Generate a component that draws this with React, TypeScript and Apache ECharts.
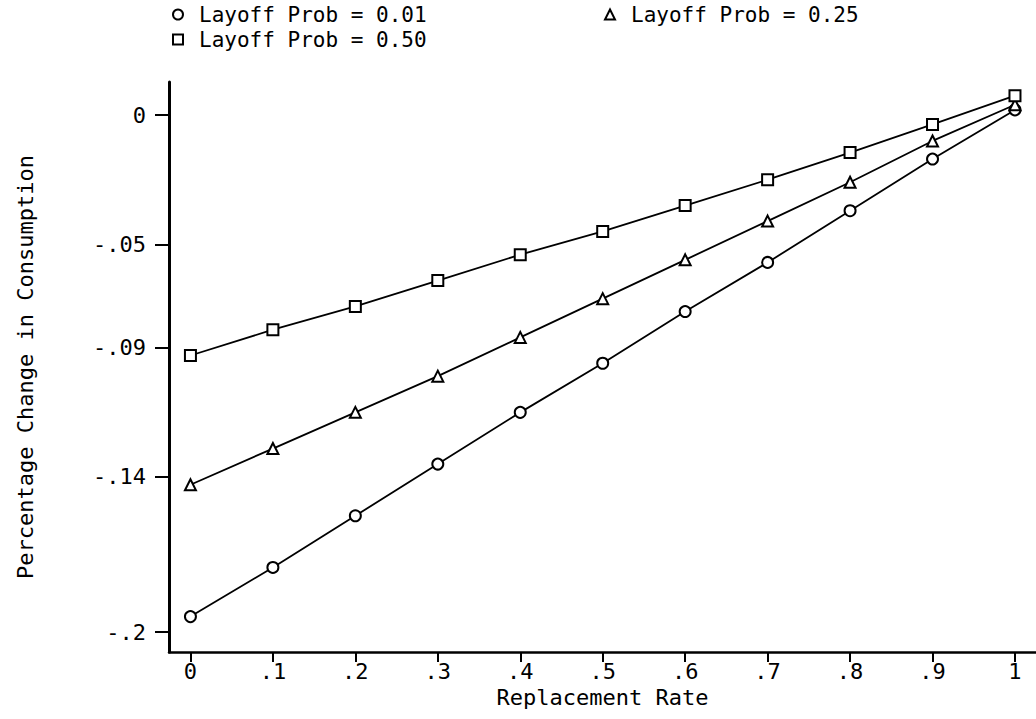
import React, { useEffect, useRef } from 'react';
import * as echarts from 'echarts';

const replacementRates = [0, 0.1, 0.2, 0.3, 0.4, 0.5, 0.6, 0.7, 0.8, 0.9, 1];
const xTickLabels = ['0', '.1', '.2', '.3', '.4', '.5', '.6', '.7', '.8', '.9', '1'];
const yTickValues = [0, -0.05, -0.09, -0.14, -0.2];
const yTickLabels = ['0', '-.05', '-.09', '-.14', '-.2'];
const seriesNames = ['Layoff Prob = 0.01', 'Layoff Prob = 0.25', 'Layoff Prob = 0.50'];
const prob001 = [-0.194, -0.175, -0.155, -0.135, -0.115, -0.096, -0.076, -0.057, -0.037, -0.017, 0.002];
const prob025 = [-0.143, -0.129, -0.115, -0.101, -0.086, -0.071, -0.056, -0.041, -0.026, -0.010, 0.004];
const prob050 = [-0.093, -0.083, -0.074, -0.064, -0.054, -0.045, -0.035, -0.025, -0.0145, -0.0036, 0.0075];

const FONT = 'DejaVu Sans Mono';
const font = { fontFamily: FONT, fontSize: 22, color: '#000' };

function pickLabel(values: number[], labels: string[], v: number): string {
  for (let i = 0; i < values.length; i++) {
    if (Math.abs(values[i] - v) < 1e-9) return labels[i];
  }
  return '';
}

export default function App() {
  const ref = useRef<HTMLDivElement>(null);
  useEffect(() => {
    if (!ref.current) return;
    const chart = echarts.init(ref.current, undefined, { renderer: 'svg' });
    const mkSeries = (name: string, data: number[], symbol: string) => ({
      name,
      type: 'line',
      data: replacementRates.map((r, i) => [r, data[i]]),
      symbol,
      symbolSize: 11,
      showSymbol: true,
      lineStyle: { color: '#000', width: 1.8 },
      itemStyle: { color: '#fff', borderColor: '#000', borderWidth: 2 },
      emphasis: { disabled: true },
    });
    const legendBase = {
      selectedMode: false,
      itemWidth: 10,
      itemHeight: 10,
      padding: 0,
      itemStyle: { color: '#fff', borderColor: '#000', borderWidth: 2 },
      textStyle: { fontFamily: FONT, fontSize: 21, color: '#000', lineHeight: 20, padding: [0, 0, 0, 11] },
    };
    chart.setOption({
      animation: false,
      backgroundColor: '#fff',
      grid: { left: 169, right: 0, top: 82, bottom: 67, containLabel: false, outerBoundsMode: 'none' },
      legend: [
        { ...legendBase, left: 172, top: 4, data: [{ name: seriesNames[0], icon: 'circle' }] },
        { ...legendBase, left: 604, top: 4, data: [{ name: seriesNames[1], icon: 'triangle' }] },
        { ...legendBase, left: 172, top: 29, data: [{ name: seriesNames[2], icon: 'rect' }] },
      ],
      xAxis: {
        type: 'value',
        min: -0.026,
        max: 1.0255,
        name: 'Replacement Rate',
        nameLocation: 'middle',
        nameGap: 22,
        nameTextStyle: { ...font, lineHeight: 20 },
        axisLine: { show: true, onZero: false, lineStyle: { color: '#000', width: 2.5 } },
        axisTick: { show: true, customValues: replacementRates, length: 10, lineStyle: { color: '#000', width: 2 } },
        axisLabel: {
          ...font,
          lineHeight: 20,
          margin: 9,
          customValues: replacementRates,
          formatter: (v: number) => pickLabel(replacementRates, xTickLabels, v),
        },
        splitLine: { show: false },
      },
      yAxis: {
        type: 'value',
        min: -0.2077,
        max: 0.0128,
        name: 'Percentage Change in Consumption',
        nameLocation: 'middle',
        nameGap: 133,
        nameTextStyle: font,
        axisLine: { show: true, onZero: false, lineStyle: { color: '#000', width: 3 } },
        axisTick: { show: true, customValues: yTickValues, length: 14, lineStyle: { color: '#000', width: 2 } },
        axisLabel: {
          ...font,
          margin: 23,
          customValues: yTickValues,
          formatter: (v: number) => pickLabel(yTickValues, yTickLabels, v),
        },
        splitLine: { show: false },
      },
      series: [
        mkSeries(seriesNames[0], prob001, 'circle'),
        mkSeries(seriesNames[1], prob025, 'triangle'),
        mkSeries(seriesNames[2], prob050, 'rect'),
      ],
    });
    return () => chart.dispose();
  }, []);
  return (
    <div
      ref={ref}
      style={{ position: 'fixed', left: 0, top: 0, width: 1036, height: 719, background: '#fff' }}
    />
  );
}
